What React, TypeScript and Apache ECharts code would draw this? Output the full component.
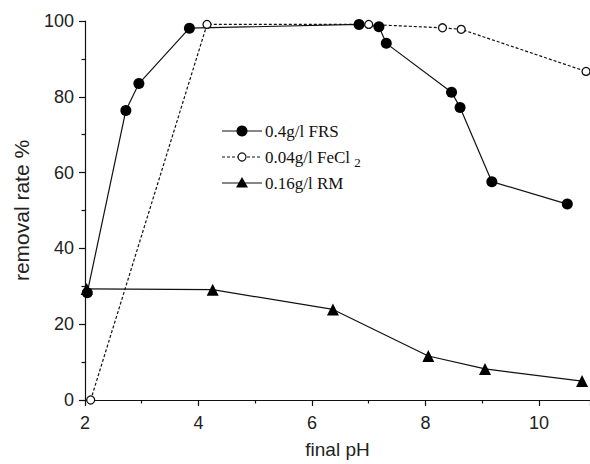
import React, { useEffect, useRef } from "react";
import * as echarts from "echarts";

const frsData: [number, number][] = [
  [2.04, 28.3], [2.72, 76.4], [2.95, 83.5], [3.84, 98.1], [6.83, 99.1],
  [7.18, 98.5], [7.31, 94.1], [8.46, 81.2], [8.61, 77.2], [9.17, 57.6], [10.5, 51.7],
];
const fecl2Data: [number, number][] = [
  [2.1, 0], [4.15, 99.1], [7.0, 99.1], [8.3, 98.2], [8.63, 97.8], [10.83, 86.7],
];
const rmData: [number, number][] = [
  [2.03, 29.3], [4.25, 29.1], [6.37, 23.9], [8.05, 11.6], [9.05, 8.2], [10.76, 5.0],
];
const legendNames = ["0.4g/l FRS", "0.04g/l FeCl {sub|2}", "0.16g/l RM"];
const xTitle = "final pH";
const yTitle = "removal rate %";

const TRI = "path://M0,-10 L10,8 L-10,8 Z";

export default function App() {
  const ref = useRef<HTMLDivElement>(null);
  useEffect(() => {
    document.body.style.margin = "0";
    const chart = echarts.init(ref.current!, null, { renderer: "svg" });
    const sans = "Liberation Sans, Arial, sans-serif";
    const serif = "Liberation Serif, Times New Roman, serif";
    const axisCommon = {
      axisLine: { show: true, lineStyle: { color: "#111", width: 1.2 } },
      axisTick: { show: true, inside: false, length: 6, lineStyle: { color: "#111", width: 1.2 } },
      minorTick: { show: true, splitNumber: 2, length: 3.5, lineStyle: { color: "#111", width: 1.2 } },
      splitLine: { show: false },
    };
    const legendRows = [131, 157, 183];
    const graphics: any[] = [];
    graphics.push({ type: "line", shape: { x1: 222, y1: legendRows[0], x2: 262, y2: legendRows[0] }, style: { stroke: "#111", lineWidth: 1.2 } });
    graphics.push({ type: "circle", shape: { cx: 242, cy: legendRows[0], r: 5.5 }, style: { fill: "#000" } });
    graphics.push({ type: "line", shape: { x1: 222, y1: legendRows[1], x2: 262, y2: legendRows[1] }, style: { stroke: "#111", lineWidth: 1.2, lineDash: [3, 2] } });
    graphics.push({ type: "circle", shape: { cx: 242, cy: legendRows[1], r: 4 }, style: { fill: "#fff", stroke: "#111", lineWidth: 1.2 } });
    graphics.push({ type: "line", shape: { x1: 222, y1: legendRows[2], x2: 262, y2: legendRows[2] }, style: { stroke: "#111", lineWidth: 1.2 } });
    graphics.push({ type: "polygon", shape: { points: [[242, legendRows[2] - 6], [248, legendRows[2] + 4.5], [236, legendRows[2] + 4.5]] }, style: { fill: "#000" } });
    legendNames.forEach((n, i) => {
      graphics.push({
        type: "text",
        x: 265,
        y: legendRows[i],
        style: {
          text: n,
          fontFamily: serif,
          fontSize: 17,
          fill: "#111",
          verticalAlign: "middle",
          align: "left",
          rich: { sub: { fontFamily: serif, fontSize: 13, fill: "#111", padding: [10, 0, 0, 0] } },
        },
      });
    });

    chart.setOption({
      animation: false,
      backgroundColor: "#fff",
      grid: { left: 85, right: 0, top: 21, bottom: 62, containLabel: false },
      xAxis: {
        type: "value",
        min: 2,
        max: 10.9,
        interval: 2,
        name: xTitle,
        nameLocation: "middle",
        nameGap: 40,
        nameTextStyle: { fontFamily: sans, fontSize: 19, color: "#222" },
        ...axisCommon,
        axisLabel: {
          fontFamily: sans, fontSize: 18, color: "#222", margin: 14,
          showMaxLabel: false,
          formatter: (v: number) => (Math.abs(v - Math.round(v)) < 1e-6 ? String(v) : ""),
        },
      },
      yAxis: {
        type: "value",
        min: 0,
        max: 100,
        interval: 20,
        name: yTitle,
        nameLocation: "middle",
        nameGap: 53,
        nameTextStyle: { fontFamily: sans, fontSize: 21, color: "#222" },
        ...axisCommon,
        axisLabel: { fontFamily: sans, fontSize: 18, color: "#222", margin: 11 },
      },
      graphic: graphics,
      series: [
        {
          type: "line",
          data: rmData,
          symbol: TRI,
          symbolSize: 12,
          showAllSymbol: true,
          clip: false,
          lineStyle: { color: "#111", width: 1.2 },
          itemStyle: { color: "#000", borderWidth: 0 },
        },
        {
          type: "line",
          data: frsData,
          symbol: "circle",
          symbolSize: 11,
          showAllSymbol: true,
          clip: false,
          lineStyle: { color: "#111", width: 1.2 },
          itemStyle: { color: "#000", borderWidth: 0 },
        },
        {
          type: "line",
          data: fecl2Data,
          symbol: "circle",
          symbolSize: 8,
          showAllSymbol: true,
          clip: false,
          lineStyle: { color: "#111", width: 1.2, type: [3, 2] },
          itemStyle: { color: "#fff", borderColor: "#111", borderWidth: 1.3 },
        },
      ],
    });
    return () => chart.dispose();
  }, []);
  return <div ref={ref} style={{ width: 590, height: 464, position: "absolute", left: 0, top: 0 }} />;
}
